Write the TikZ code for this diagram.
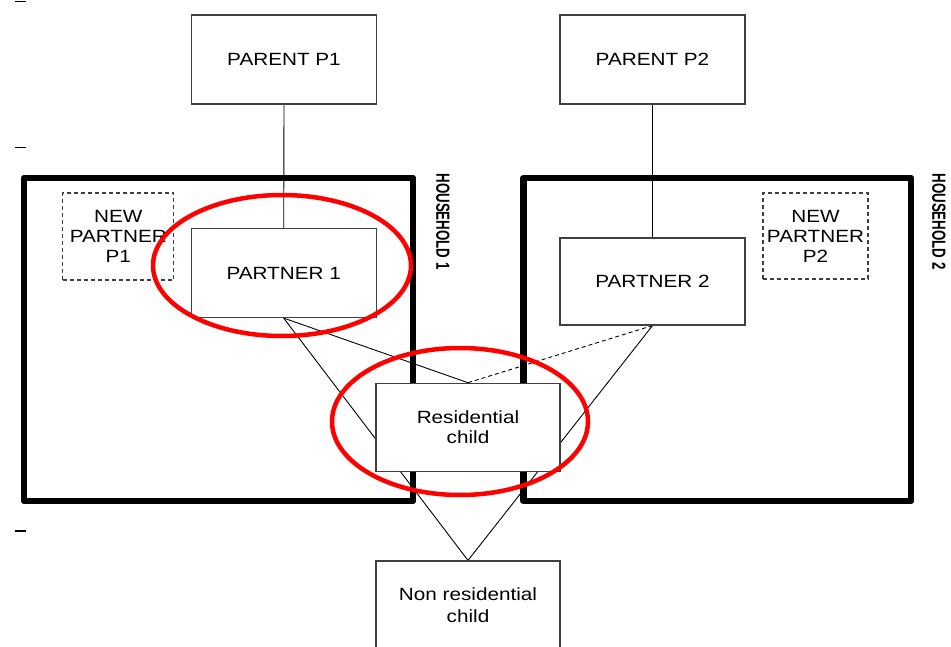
\documentclass[tikz,border=0pt]{standalone}
\usepackage{fontspec}
\newfontfamily\boxfont{Liberation Sans}[FakeStretch=1.17]
\newfontfamily\hhfont{Liberation Sans}[FakeStretch=0.7]
\usetikzlibrary{backgrounds}

\tikzset{
  member/.style={draw=black!75, line width=1.2pt, fill=white, inner sep=0pt,
    align=center, font=\boxfont\fontsize{17.7}{20}\selectfont},
  newmember/.style={member, dash pattern=on 4pt off 3pt},
  household/.style={line width=6.5pt, line join=round},
  hhlabel/.style={rotate=-90, inner sep=0pt,
    font=\hhfont\bfseries\fontsize{19}{21}\selectfont},
  circled/.style={draw=red, line width=4.5pt},
  link/.style={line width=0.9pt}
}

\begin{document}
\begin{tikzpicture}[x=1pt, y=-1pt]
  \useasboundingbox (0,0) rectangle (951,647);
  \clip (0,0) rectangle (951,647);

  % stray tick marks on the left margin
  \foreach \y in {1.5,147.7,531} \draw[line width=1.3pt] (15,\y) -- (26,\y);

  % people
  \node[member, minimum width=185pt, minimum height=89pt] (parentA) at (284,59.5) {PARENT P1};
  \node[member, minimum width=185pt, minimum height=89pt] (parentB) at (652.5,59.5) {PARENT P2};
  \node[member, minimum width=185pt, minimum height=89pt] (partnerA) at (283.7,273) {PARTNER 1};
  \node[member, minimum width=185pt, minimum height=87pt] (partnerB) at (652.5,281.5) {PARTNER 2};
  \node[newmember, minimum width=111pt, minimum height=87pt] (newA) at (118.3,236.5) {NEW\\PARTNER\\P1};
  \node[newmember, minimum width=105pt, minimum height=86pt] (newB) at (815.5,236) {NEW\\PARTNER\\P2};
  \node[member, minimum width=184pt, minimum height=88pt] (resid) at (468,427.3) {Residential\\child};
  \node[member, minimum width=184pt, minimum height=88pt,
    font=\boxfont\fontsize{17.7}{22}\selectfont] (nonresid) at (468,605) {Non residential\\child};

  % household labels
  \node[hhlabel] (hhAlabel) at (443,221.5) {HOUSEHOLD 1};
  \node[hhlabel] (hhBlabel) at (939,221.5) {HOUSEHOLD 2};

  \begin{pgfonlayer}{background}
    \draw[link] (parentA.south) -- (partnerA.north);
    \draw[link] (parentB.south) -- (partnerB.north);
    \draw[link] (partnerA.south) -- (resid.north);
    \draw[link] (partnerA.south) -- (nonresid.north);
    \draw[link, dash pattern=on 4pt off 3pt] (partnerB.south) -- (resid.north);
    \draw[link] (partnerB.south) -- (nonresid.north);
    % households
    \draw[household] (24,178) rectangle (413,501);
    \draw[household] (523.5,178) rectangle (911,501);
  \end{pgfonlayer}

  % highlights
  \draw[circled] (282,265.5) ellipse [x radius=129pt, y radius=70.5pt];
  \draw[circled] (460,421.5) ellipse [x radius=128pt, y radius=73.5pt];
\end{tikzpicture}
\end{document}
